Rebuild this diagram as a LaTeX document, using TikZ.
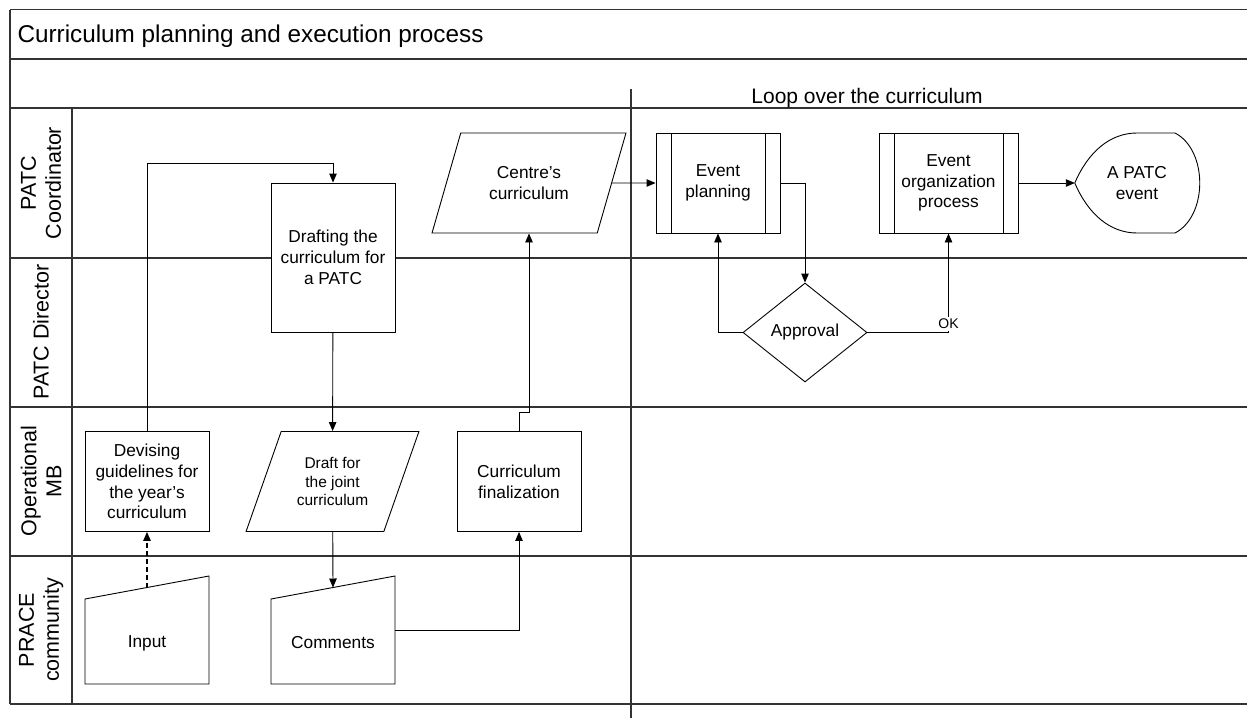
\documentclass[tikz,border=0pt]{standalone}
\usepackage{fontspec}
\setmainfont{Liberation Sans}
\usetikzlibrary{shapes.geometric,arrows.meta}

\begin{document}
\begin{tikzpicture}[x=1pt,y=-1pt,>={Triangle[length=9pt,width=7.5pt]}]
            \tikzstyle{every node}=[font=\fontsize{17.3}{20.7}\selectfont]
            \tikzstyle{lane}=[line width=1.5pt,draw=black!80]
            \tikzstyle{box}=[draw,fill=white,line width=0.9pt,minimum width=124pt,minimum height=100pt,inner sep=0pt,align=center]
            \tikzstyle{sub}=[box,path picture={
                \draw[line width=0.9pt] ([xshift=15pt]path picture bounding box.north west) -- ([xshift=15pt]path picture bounding box.south west)
                    ([xshift=-15pt]path picture bounding box.north east) -- ([xshift=-15pt]path picture bounding box.south east);}]
            \tikzstyle{para}=[box,trapezium,trapezium left angle=63,trapezium right angle=117,trapezium stretches=true]
            \tikzstyle{lanelbl}=[rotate=90,align=center,font=\fontsize{21.5}{25}\selectfont]
            \tikzstyle{flow}=[->,line width=0.9pt]
            \useasboundingbox (0,0) rectangle (1247,718);

            % pool and lanes
            \draw[lane] (10,9.5) -- (1247,9.5);
            \draw[lane] (10,9.5) -- (10,704);
            \foreach \y in {59,108,258,407,556,704}
                \draw[lane] (10,\y) -- (1247,\y);
            \draw[lane] (72,108) -- (72,704);
            \draw[lane] (631,89) -- (631,718);

            \node[anchor=base west,font=\fontsize{24.3}{28}\selectfont] (ttl) at (14,42) {Curriculum planning and execution process};
            \node[anchor=base,font=\fontsize{21}{25}\selectfont] (loop) at (867,103) {Loop over the curriculum};
            \node[lanelbl] (lc) at (41,183) {PATC\\Coordinator};
            \node[lanelbl] (ld) at (41,332) {PATC Director};
            \node[lanelbl] (lo) at (41,481) {Operational\\MB};
            \node[lanelbl] (lp) at (41,630) {PRACE\\community};

            \node[box] (dg) at (147,481.5) {Devising\\guidelines for\\the year’s\\curriculum};
            \node[box,minimum height=149pt] (dr) at (333,257.5) {Drafting the\\curriculum for\\a PATC};
            \node[para,minimum width=173pt,font=\fontsize{15.5}{18.3}\selectfont] (dj) at (332.5,481.5) {Draft for\\the joint\\curriculum};
            \node[box] (cf) at (519,481.5) {Curriculum\\finalization};
            \node[para,minimum width=194pt] (cc) at (529,183) {Centre’s\\curriculum};
            \node[sub] (ep) at (718,183) {Event\\planning};
            \node[sub,minimum width=139pt] (eo) at (948.5,183) {Event\\organization\\process};
            \node[box,diamond,minimum width=124pt,minimum height=99pt] (ap) at (805,332.5) {Approval};
            \node[align=center,minimum width=124pt,minimum height=100pt] (ev) at (1137,183) {A PATC\\event};
            \draw[line width=0.9pt] (ev.west) .. controls (1088,152) and (1110,133) .. (1137,133) -- (1175,133)
                .. controls (1208,150) and (1208,216) .. (1175,233) -- (1137,233)
                .. controls (1110,233) and (1088,214) .. (ev.west);

            % manual input
            \draw[line width=0.9pt] (85,684) -- (85,599) -- (209,576) -- (209,684) -- cycle;
            \draw[line width=0.9pt] (271,684) -- (271,599) -- (395,576) -- (395,684) -- cycle;
            \node (in) at (147,643) {Input};
            \node (cm) at (333,643) {Comments};
            \coordinate (intop) at (147,587.5);
            \coordinate (cmtop) at (333,587.5);
            \coordinate (cmr) at (395,630);

            \draw[flow] (dg.north) -- ++(0,-268) -| (dr.north);
            \draw[flow] (dr) -- (dj);
            \draw[flow] (dj) -- (cmtop);
            \draw[flow,line width=1.3pt,dash pattern=on 5pt off 3pt] (intop) -- (dg);
            \draw[flow] (cmr) -| (cf);
            \draw[flow] (cf.north) -- ++(0,-19) -| (cc.south);
            \draw[flow] (cc) -- (ep);
            \draw[flow] (ep) -| (ap);
            \draw[flow] (ap) -| (ep);
            \draw[flow] (ap) -| node[anchor=south,yshift=1pt,fill=white,inner sep=2pt,font=\fontsize{14}{16}\selectfont] {OK} (eo);
            \draw[flow] (eo) -- (ev);
        \end{tikzpicture}
\end{document}
